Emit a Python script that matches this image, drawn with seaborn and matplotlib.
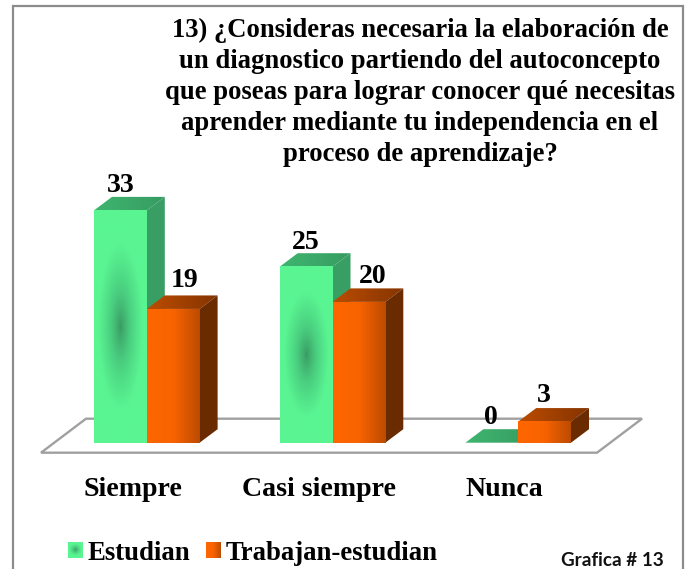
import numpy as np
import pandas as pd
import matplotlib
matplotlib.use("Agg")
import matplotlib.pyplot as plt
from matplotlib.patches import Patch, Polygon, Rectangle
from matplotlib.colors import LinearSegmentedColormap
from matplotlib.transforms import ScaledTranslation
import seaborn as sns

categories = ["Siempre", "Casi siempre", "Nunca"]
estudian = [33, 25, 0]
trabajan = [19, 20, 3]
series_names = ["Estudian", "Trabajan-estudian"]
title_text = ("13) ¿Consideras necesaria la elaboración de\n"
              "un diagnostico partiendo del autoconcepto\n"
              "que poseas para lograr conocer qué necesitas\n"
              "aprender mediante tu independencia en el\n"
              "proceso de aprendizaje?")
footer_text = "Grafica # 13"

W, H = 695, 569
PX_CAT, X0 = 185.7, 146.8      # px per category, px of first category
PX_VAL, Y0 = 7.04, 442.7       # px per unit, px of the baseline
DX, DY = 18 / PX_CAT, 13.5 / PX_VAL

sns.set_theme(style="white")
plt.rcParams["font.family"] = ["Liberation Serif", "DejaVu Sans"]
plt.rcParams["font.weight"] = "bold"

df = pd.DataFrame({
    "cat": categories * 2,
    "val": estudian + trabajan,
    "serie": [series_names[0]] * 3 + [series_names[1]] * 3,
})

fig = plt.figure(figsize=(W / 100, H / 100), dpi=100, facecolor="white")
left, right, top = 14, 683, 190
ax = fig.add_axes([left / W, (H - Y0) / H, (right - left) / W, (Y0 - top) / H])
ax.patch.set_visible(False)

GREEN, ORANGE = "#5CFA94", "#FF6600"
sns.barplot(data=df, x="cat", y="val", hue="serie", palette=[GREEN, ORANGE],
            width=2 * 52.8 / PX_CAT, gap=0, legend=False, saturation=1,
            linewidth=0, zorder=2, ax=ax)
xlim = ((left - X0) / PX_CAT, (right - X0) / PX_CAT)
ylim = (0, (Y0 - top) / PX_VAL)

# floor
fx = (41 - X0) / PX_CAT, (597 - X0) / PX_CAT
fy = (Y0 - 452.7) / PX_VAL, (Y0 - 418.7) / PX_VAL
sk = 45 / PX_CAT
floor = Polygon([(fx[0], fy[0]), (fx[1], fy[0]), (fx[1] + sk, fy[1]), (fx[0] + sk, fy[1])],
                closed=True, fill=False, edgecolor="#A0A0A0", lw=1.7, clip_on=False, zorder=1)
ax.add_patch(floor)

green_map = LinearSegmentedColormap.from_list("g", ["#3A9A63", "#4ACF80", "#5AF592"])
orange_front = LinearSegmentedColormap.from_list("o", ["#FF6600", "#F86300", "#BC4B00"])
orange_top = LinearSegmentedColormap.from_list("ot", ["#BC4C00", "#843400"])
green_top = LinearSegmentedColormap.from_list("gt", ["#3FB56F", "#379C62"])


def radial(n=160):
    yy, xx = np.mgrid[-1:1:n * 1j, -1:1:n * 1j]
    r = np.sqrt((xx / 0.85) ** 2 + (yy / 0.72) ** 2)
    return np.clip(r, 0, 1) ** 0.85


horiz = np.linspace(0, 1, 128).reshape(1, -1)
side_cols = ["#389E64", "#6B2B00"]
top_maps = [green_top, orange_top]

for h, cont in enumerate(ax.containers):
    z = 2 + h
    for bar in cont:
        x0, w, v = bar.get_x(), bar.get_width(), bar.get_height()
        x1 = x0 + w
        bar.set_zorder(z + 0.1)
        top_poly = Polygon([(x0, v), (x1, v), (x1 + DX, v + DY), (x0 + DX, v + DY)],
                           closed=True, transform=ax.transData, fc="none", ec="none")
        ax.add_patch(top_poly)
        im = ax.imshow(horiz, cmap=top_maps[h], extent=(x0, x1 + DX, v, v + DY),
                       aspect="auto", zorder=z, clip_on=True)
        im.set_clip_path(top_poly)
        if v > 0:
            ax.add_patch(Polygon([(x1, 0), (x1 + DX, DY), (x1 + DX, v + DY), (x1, v)],
                                 closed=True, fc=side_cols[h], ec="none", zorder=z))
            if h == 0:
                ax.imshow(radial(), cmap=green_map, extent=(x0, x1, 0, v),
                          aspect="auto", zorder=z + 0.2, vmin=0, vmax=1)
            else:
                ax.imshow(horiz, cmap=orange_front, extent=(x0, x1, 0, v),
                          aspect="auto", zorder=z + 0.2)

ax.set_xlim(*xlim)
ax.set_ylim(*ylim)

# value labels
label_dx = [[0, 0, -1], [11, 14, -1]]
label_dy = [[25, 24, 25], [28, 25, 26]]
for h, cont in enumerate(ax.containers):
    for i, bar in enumerate(cont):
        ax.annotate(f"{int(bar.get_height())}",
                    (bar.get_x() + bar.get_width() / 2, bar.get_height()),
                    xytext=(label_dx[h][i] * 0.72, label_dy[h][i] * 0.72),
                    textcoords="offset points", ha="center", va="center",
                    fontsize=20, fontweight="bold", color="black",
                    zorder=6, annotation_clip=False)

ax.set_xlabel("")
ax.set_ylabel("")
ax.set_yticks([])
ax.tick_params(axis="x", length=0, pad=25, labelsize=20.1, labelcolor="black")
shift = ScaledTranslation(-13.5 / 100, 0, fig.dpi_scale_trans)
for t in ax.get_xticklabels():
    t.set_fontweight("bold")
    t.set_transform(t.get_transform() + shift)
sns.despine(ax=ax, left=True, bottom=True)

fig.suptitle(title_text, x=420 / W, y=1 - 18 / H, va="top", ha="center",
             fontsize=19.2, fontweight="bold", color="black", linespacing=1.31)

fig.add_artist(Rectangle((13 / W, -0.02), (683 - 13) / W, 1.02 - 6 / H,
                         transform=fig.transFigure, fill=False,
                         edgecolor="#8C8C8C", lw=1.6))

handles = [Patch(facecolor=GREEN, label=series_names[0]),
           Patch(facecolor=ORANGE, label=series_names[1])]
leg = fig.legend(handles=handles, ncol=2, frameon=False, fontsize=19.3,
                 loc="center left", bbox_to_anchor=(68 / W, 1 - 553 / H),
                 borderpad=0, borderaxespad=0, handlelength=0.55, handleheight=0.55,
                 handletextpad=0.18, columnspacing=0.58, labelcolor="black")
for t in leg.get_texts():
    t.set_fontweight("bold")

fig.text(612 / W, 1 - 561 / H, footer_text, family="Lato", fontweight="bold",
         fontsize=13.6, color="#111111", ha="center", va="center")

# gradient swatches over the legend keys
fig.canvas.draw()
for h, ph in enumerate(leg.legend_handles):
    bb = ph.get_window_extent()
    lax = fig.add_axes([bb.x0 / W, bb.y0 / H, bb.width / W, bb.height / H], zorder=10)
    lax.axis("off")
    if h == 0:
        lax.imshow(radial(40), cmap=green_map, aspect="auto", vmin=0, vmax=1)
    else:
        lax.imshow(horiz, cmap=orange_front, aspect="auto")

fig.savefig("out.png", dpi=100, facecolor="white")
